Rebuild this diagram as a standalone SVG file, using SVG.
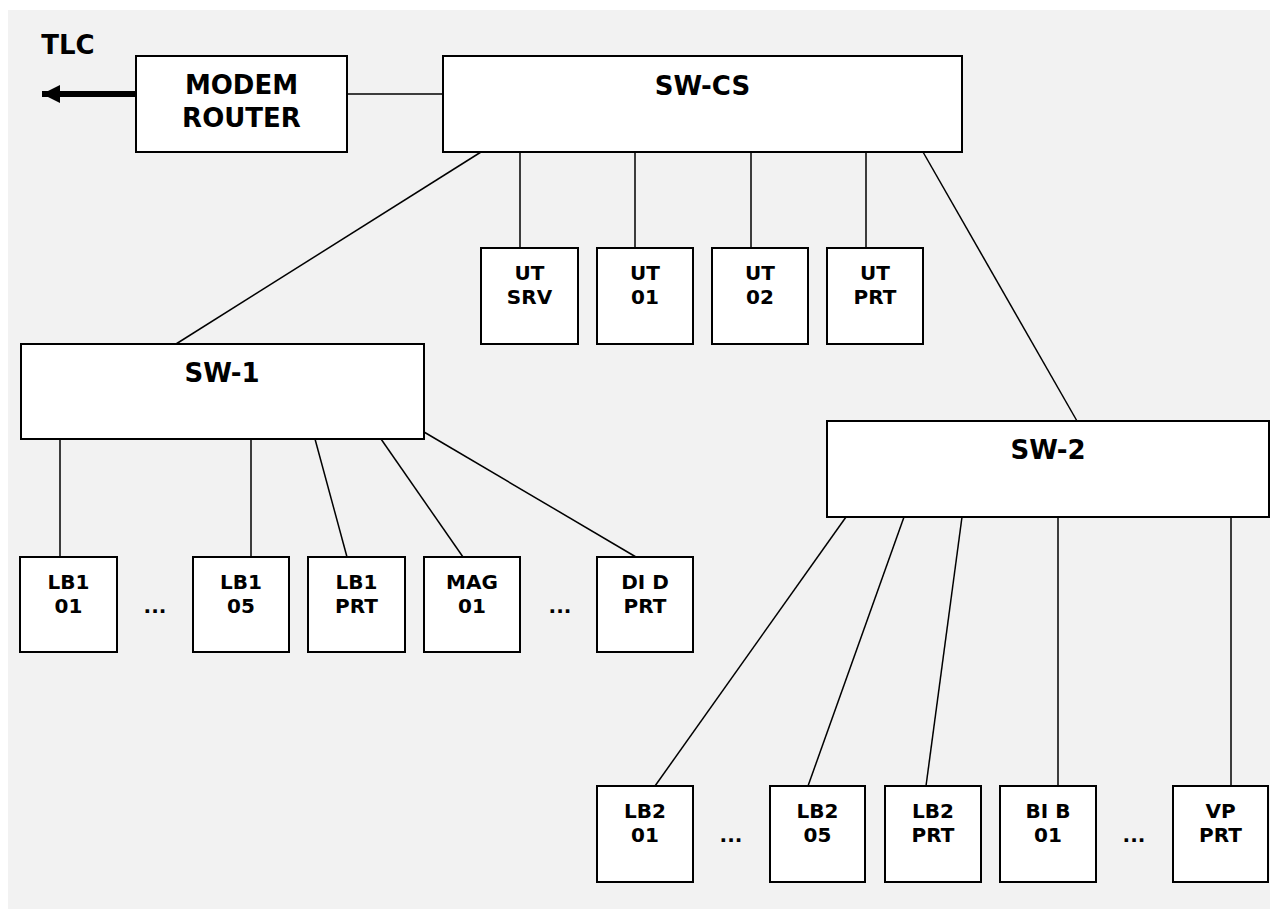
<svg xmlns="http://www.w3.org/2000/svg" width="1273" height="909" viewBox="0 0 1273 909">
  <defs>
    <style>
      .box { fill: #ffffff; stroke: #000000; stroke-width: 2; }
      .link { stroke: #000000; stroke-width: 1.5; fill: none; }
      .big { font-family: "DejaVu Sans", Verdana, sans-serif; font-weight: bold; font-size: 26px; fill: #000000; text-anchor: middle; }
      .small { font-family: "DejaVu Sans", Verdana, sans-serif; font-weight: bold; font-size: 20px; fill: #000000; text-anchor: middle; }
    </style>
    <marker id="head" markerUnits="userSpaceOnUse" markerWidth="20" markerHeight="18" refX="18" refY="9" orient="auto">
      <path d="M0,0 L18,9 L0,18 Z" fill="#000000"/>
    </marker>
  </defs>

  <!-- background panel -->
  <rect x="8" y="10" width="1262" height="899" fill="#f2f2f2"/>

  <!-- connectors -->
  <g id="connectors">
    <line x1="136" y1="94" x2="42" y2="94" stroke="#000000" stroke-width="6" marker-end="url(#head)"/>
    <line class="link" x1="347" y1="94" x2="443" y2="94"/>
    <!-- SW-CS to UT row -->
    <line class="link" x1="520" y1="152" x2="520" y2="248"/>
    <line class="link" x1="635" y1="152" x2="635" y2="248"/>
    <line class="link" x1="751" y1="152" x2="751" y2="248"/>
    <line class="link" x1="866" y1="152" x2="866" y2="248"/>
    <!-- SW-CS to switches -->
    <line class="link" x1="481" y1="152" x2="176" y2="344"/>
    <line class="link" x1="923" y1="152" x2="1077" y2="421"/>
    <!-- SW-1 to LB1 row -->
    <line class="link" x1="60" y1="439" x2="60" y2="557"/>
    <line class="link" x1="251" y1="439" x2="251" y2="557"/>
    <line class="link" x1="315" y1="439" x2="347" y2="557"/>
    <line class="link" x1="381" y1="439" x2="463" y2="557"/>
    <line class="link" x1="424" y1="432" x2="636" y2="557"/>
    <!-- SW-2 to LB2 row -->
    <line class="link" x1="846" y1="517" x2="655" y2="786"/>
    <line class="link" x1="904" y1="517" x2="808" y2="786"/>
    <line class="link" x1="962" y1="517" x2="926" y2="786"/>
    <line class="link" x1="1058" y1="517" x2="1058" y2="786"/>
    <line class="link" x1="1231" y1="517" x2="1231" y2="786"/>
  </g>

  <text class="big" x="68" y="54">TLC</text>

  <g id="modem-router">
    <rect class="box" x="136" y="56" width="211" height="96"/>
    <text class="big" x="241.5" y="94">MODEM</text>
    <text class="big" x="241.5" y="127">ROUTER</text>
  </g>

  <g id="sw-cs">
    <rect class="box" x="443" y="56" width="519" height="96"/>
    <text class="big" x="702.5" y="95">SW-CS</text>
  </g>

  <g id="ut-srv">
    <rect class="box" x="481" y="248" width="97" height="96"/>
    <text class="small" x="529.5" y="280">UT</text>
    <text class="small" x="529.5" y="304">SRV</text>
  </g>
  <g id="ut-01">
    <rect class="box" x="597" y="248" width="96" height="96"/>
    <text class="small" x="645" y="280">UT</text>
    <text class="small" x="645" y="304">01</text>
  </g>
  <g id="ut-02">
    <rect class="box" x="712" y="248" width="96" height="96"/>
    <text class="small" x="760" y="280">UT</text>
    <text class="small" x="760" y="304">02</text>
  </g>
  <g id="ut-prt">
    <rect class="box" x="827" y="248" width="96" height="96"/>
    <text class="small" x="875" y="280">UT</text>
    <text class="small" x="875" y="304">PRT</text>
  </g>

  <g id="sw-1">
    <rect class="box" x="21" y="344" width="403" height="95"/>
    <text class="big" x="222" y="382">SW-1</text>
  </g>

  <g id="lb1-01">
    <rect class="box" x="20" y="557" width="97" height="95"/>
    <text class="small" x="68.5" y="589">LB1</text>
    <text class="small" x="68.5" y="613">01</text>
  </g>
  <text class="small" x="155" y="613">...</text>
  <g id="lb1-05">
    <rect class="box" x="193" y="557" width="96" height="95"/>
    <text class="small" x="241" y="589">LB1</text>
    <text class="small" x="241" y="613">05</text>
  </g>
  <g id="lb1-prt">
    <rect class="box" x="308" y="557" width="97" height="95"/>
    <text class="small" x="356.5" y="589">LB1</text>
    <text class="small" x="356.5" y="613">PRT</text>
  </g>
  <g id="mag-01">
    <rect class="box" x="424" y="557" width="96" height="95"/>
    <text class="small" x="472" y="589">MAG</text>
    <text class="small" x="472" y="613">01</text>
  </g>
  <text class="small" x="560" y="613">...</text>
  <g id="did-prt">
    <rect class="box" x="597" y="557" width="96" height="95"/>
    <text class="small" x="645" y="589">DI D</text>
    <text class="small" x="645" y="613">PRT</text>
  </g>

  <g id="sw-2">
    <rect class="box" x="827" y="421" width="442" height="96"/>
    <text class="big" x="1048" y="459">SW-2</text>
  </g>

  <g id="lb2-01">
    <rect class="box" x="597" y="786" width="96" height="96"/>
    <text class="small" x="645" y="818">LB2</text>
    <text class="small" x="645" y="842">01</text>
  </g>
  <text class="small" x="731" y="842">...</text>
  <g id="lb2-05">
    <rect class="box" x="770" y="786" width="95" height="96"/>
    <text class="small" x="817.5" y="818">LB2</text>
    <text class="small" x="817.5" y="842">05</text>
  </g>
  <g id="lb2-prt">
    <rect class="box" x="885" y="786" width="96" height="96"/>
    <text class="small" x="933" y="818">LB2</text>
    <text class="small" x="933" y="842">PRT</text>
  </g>
  <g id="bib-01">
    <rect class="box" x="1000" y="786" width="96" height="96"/>
    <text class="small" x="1048" y="818">BI B</text>
    <text class="small" x="1048" y="842">01</text>
  </g>
  <text class="small" x="1134" y="842">...</text>
  <g id="vp-prt">
    <rect class="box" x="1173" y="786" width="95" height="96"/>
    <text class="small" x="1220.5" y="818">VP</text>
    <text class="small" x="1220.5" y="842">PRT</text>
  </g>
</svg>
